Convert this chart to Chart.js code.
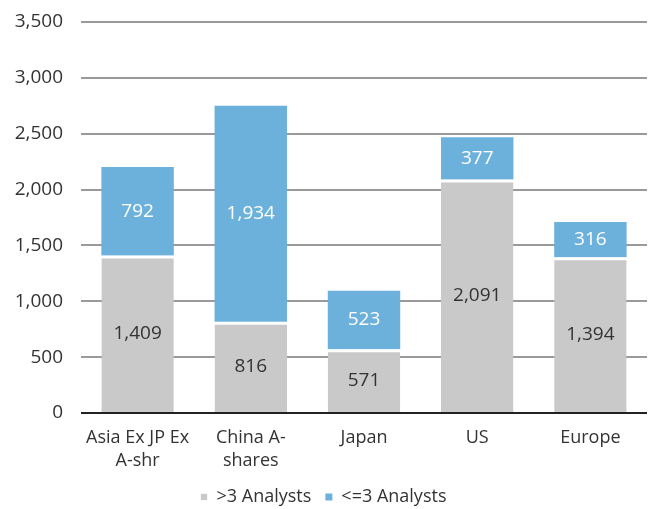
<!DOCTYPE html>
<html lang="en">
<head>
<meta charset="UTF-8">
<script src="https://cdn.jsdelivr.net/npm/chart.js"></script>
<style>
    html, body { margin: 0; padding: 0; background: #fff; }
    #wrap { width: 649px; height: 509px; }
</style>
</head>
<body>
<div id="wrap"><canvas id="myBarChart" width="649" height="509"></canvas></div>
<script>
// data
var categories = [['Asia Ex JP Ex', 'A-shr'], ['China A-', 'shares'], 'Japan', 'US', 'Europe'];
var moreThan3 = [1409, 816, 571, 2091, 1394];
var upTo3 = [792, 1934, 523, 377, 316];
var seriesNames = ['>3 Analysts', '<=3 Analysts'];
var yTicks = [0, 500, 1000, 1500, 2000, 2500, 3000, 3500];

var grayColor = '#c9c9c9';
var blueColor = '#6cb1dc';
var fontFamily = "'Open Sans', 'Noto Sans', sans-serif";

// simple in-bar value labels
var valueLabels = {
    id: 'valueLabels',
    afterDatasetsDraw: function (chart) {
        var ctx = chart.ctx;
        ctx.save();
        ctx.font = '19px ' + fontFamily;
        ctx.textAlign = 'center';
        ctx.textBaseline = 'middle';
        chart.data.datasets.forEach(function (ds, i) {
            var meta = chart.getDatasetMeta(i);
            ctx.fillStyle = i === 0 ? '#333333' : '#ffffff';
            meta.data.forEach(function (bar, j) {
                var y = (bar.y + bar.base) / 2;
                ctx.fillText(ds.data[j].toLocaleString('en-US'), bar.x, y);
            });
        });
        ctx.restore();
    }
};

var ctx = document.getElementById('myBarChart').getContext('2d');
var myBarChart = new Chart(ctx, {
    type: 'bar',
    data: {
        labels: categories,
        datasets: [{
            label: seriesNames[0],
            data: moreThan3,
            backgroundColor: grayColor,
            borderColor: '#ffffff',
            borderWidth: { top: 3, bottom: 0, left: 0, right: 0 },
            borderSkipped: false,
            categoryPercentage: 0.64,
            barPercentage: 1
        }, {
            label: seriesNames[1],
            data: upTo3,
            backgroundColor: blueColor,
            categoryPercentage: 0.64,
            barPercentage: 1
        }]
    },
    options: {
        responsive: false,
        animation: false,
        layout: { padding: { top: 22, right: 2, left: 0, bottom: 0 } },
        plugins: {
            legend: {
                position: 'bottom',
                maxHeight: 35,
                labels: {
                    boxWidth: 7,
                    boxHeight: 7,
                    padding: 14,
                    color: '#333333',
                    font: { family: fontFamily, size: 18 }
                }
            },
            tooltip: { enabled: false }
        },
        scales: {
            x: {
                stacked: true,
                afterFit: function (axis) { axis.height = 61; },
                grid: { display: false, drawTicks: false },
                border: { display: false },
                ticks: {
                    color: '#333333',
                    padding: 13,
                    maxRotation: 0,
                    font: { family: fontFamily, size: 18, lineHeight: 1.3 }
                }
            },
            y: {
                stacked: true,
                min: 0,
                max: 3500,
                afterBuildTicks: function (axis) {
                    axis.ticks = yTicks.map(function (v) { return { value: v }; });
                },
                afterFit: function (axis) {
                    axis.width = 81;
                    axis.paddingTop = 0;
                    axis.paddingBottom = 0;
                },
                grid: {
                    drawTicks: false,
                    lineWidth: 2,
                    color: function (c) { return c.tick && c.tick.value === 0 ? '#222222' : '#9a9a9a'; }
                },
                border: { display: false },
                ticks: {
                    color: '#333333',
                    padding: 18,
                    font: { family: fontFamily, size: 19 },
                    callback: function (v) { return v.toLocaleString('en-US'); }
                }
            }
        }
    },
    plugins: [valueLabels]
});
</script>
</body>
</html>
